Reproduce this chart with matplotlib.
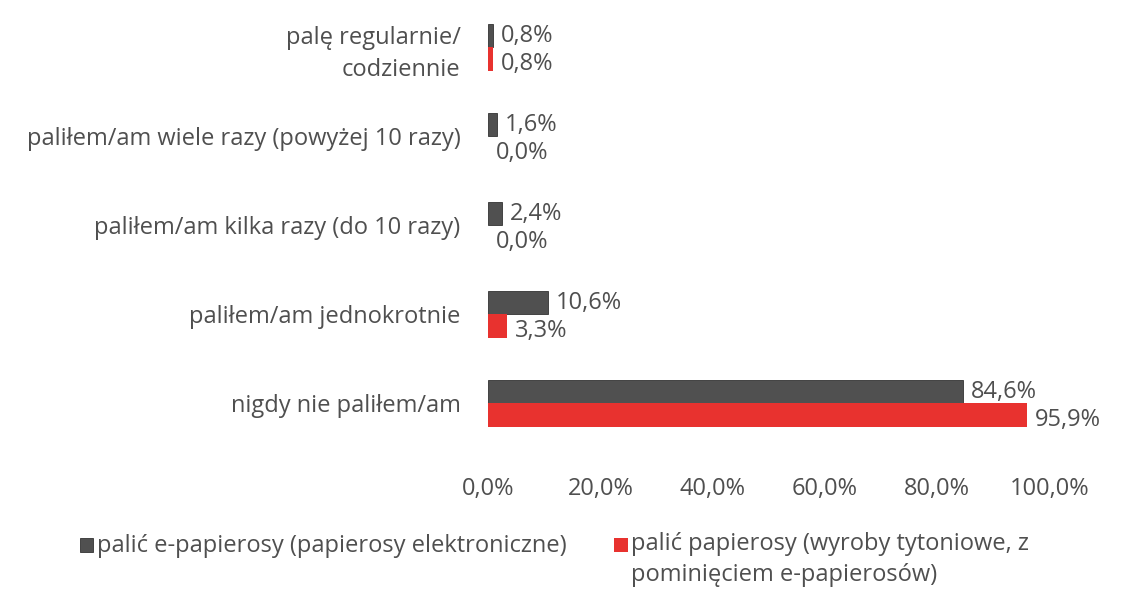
import matplotlib
matplotlib.use("Agg")
import matplotlib.pyplot as plt
from matplotlib.patches import Rectangle
import numpy as np

plt.rcParams['font.family'] = ['Open Sans', 'DejaVu Sans']

categories = ["nigdy nie paliłem/am", "paliłem/am jednokrotnie",
              "paliłem/am kilka razy (do 10 razy)",
              "paliłem/am wiele razy (powyżej 10 razy)",
              "palę regularnie/\ncodziennie"]
ecig = [84.6, 10.6, 2.4, 1.6, 0.8]
cig = [95.9, 3.3, 0.0, 0.0, 0.8]
series_names = ["palić e-papierosy (papierosy elektroniczne)",
                "palić papierosy (wyroby tytoniowe, z\npominięciem e-papierosów)"]
xticks = [0, 20, 40, 60, 80, 100]

dark = "#505050"
red = "#e8322f"
txt = "#4f4f4f"
fs = 17

fig = plt.figure(figsize=(11.25, 5.94), dpi=100)
ax = fig.add_axes([0.434, 0.246, 0.499, 0.749])

y = np.arange(len(categories))
h = 0.265
ax.barh(y + h/2, ecig, height=h, color=dark, edgecolor="#333333", linewidth=0.6)
ax.barh(y - h/2, cig, height=h, color=red, linewidth=0)

for yi, v in zip(y, ecig):
    ax.text(v + 1.4, yi + h/2, f"{v:.1f}%".replace(".", ","), va="center", ha="left",
            fontsize=fs, color=txt)
for yi, v in zip(y, cig):
    ax.text(v + 1.4, yi - h/2 - 0.05, f"{v:.1f}%".replace(".", ","), va="center", ha="left",
            fontsize=fs, color=txt)

ax.set_xlim(0, 100)
ax.set_ylim(-0.5, 4.5)
ax.set_yticks(y)
ax.set_yticklabels(categories, fontsize=fs, color=txt, linespacing=1.4)
ax.set_xticks(xticks)
ax.set_xticklabels([f"{t:.1f}%".replace(".", ",") for t in xticks], fontsize=fs, color=txt)
ax.tick_params(axis="both", length=0)
ax.tick_params(axis="x", pad=21)
ax.tick_params(axis="y", pad=20)
for s in ax.spines.values():
    s.set_visible(False)

# legend
fig.patches.append(Rectangle((0.071, 0.070), 0.012, 0.024, transform=fig.transFigure,
                             facecolor=dark, edgecolor="#333333", lw=0.6))
fig.text(0.086, 0.080, series_names[0], fontsize=fs, color=txt, va="center", ha="left")
fig.patches.append(Rectangle((0.546, 0.070), 0.012, 0.024, transform=fig.transFigure,
                             facecolor=red, lw=0))
fig.text(0.561, 0.105, series_names[1], fontsize=fs, color=txt, va="top", ha="left",
         linespacing=1.4)

fig.savefig("out.png", dpi=100)
